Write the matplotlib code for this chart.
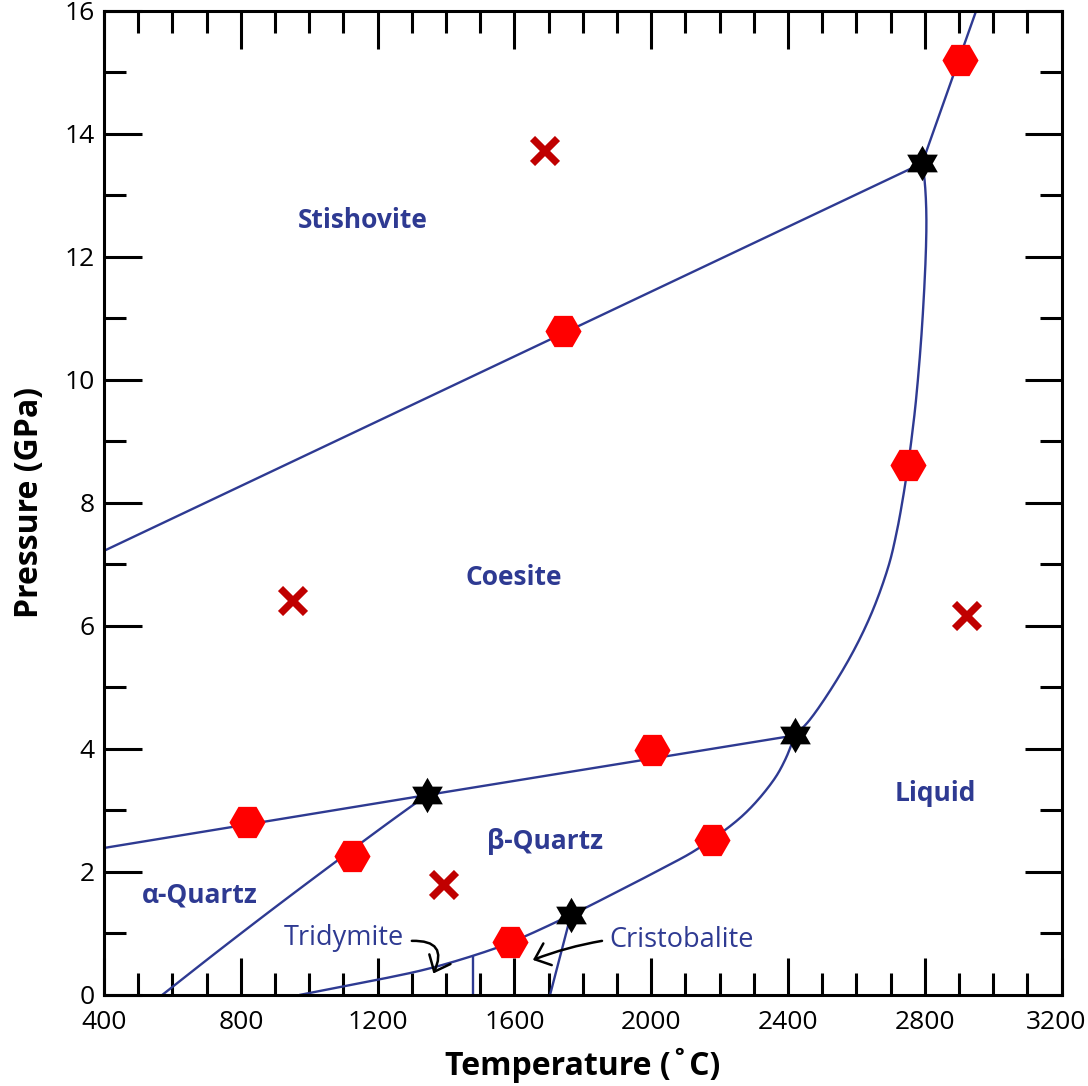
import numpy as np
import matplotlib
matplotlib.use("Agg")
import matplotlib.pyplot as plt
from matplotlib.path import Path
from matplotlib.patches import FancyArrowPatch
from matplotlib.ticker import MultipleLocator
from matplotlib.transforms import ScaledTranslation

plt.rcParams['font.family'] = ['Open Sans', 'DejaVu Sans']

# ---------------- data (temperature in C, pressure in GPa) ----------------
# quartz/tridymite/cristobalite boundary up to the beta-quartz/coesite/liquid triple point
low_T = [971, 1202, 1343, 1480, 1587, 1765, 1880, 2026, 2134, 2268, 2356, 2392, 2420]
low_P = [0.0, 0.25, 0.42, 0.64, 0.85, 1.30, 1.62, 2.04, 2.37, 2.92, 3.48, 3.83, 4.22]

# coesite melting curve up to the coesite/stishovite/liquid triple point
coes_melt_T = [2420, 2463, 2565, 2639, 2693, 2717, 2735, 2751, 2763, 2774, 2791, 2803,
               2804, 2799, 2792]
coes_melt_P = [4.22, 4.47, 5.33, 6.14, 6.96, 7.51, 8.05, 8.62, 9.13, 9.67, 10.81, 12.11,
               12.76, 13.25, 13.52]

# stishovite melting curve
stish_melt_T = [2792, 2950]
stish_melt_P = [13.52, 16.0]

# stishovite / coesite boundary
stish_T = [400, 2792]
stish_P = [7.22, 13.52]

# coesite / quartz boundary
coes_T = [400, 1344, 2420]
coes_P = [2.39, 3.25, 4.22]

# alpha / beta quartz boundary
ab_T = [570, 735, 925, 1217, 1344]
ab_P = [0.0, 0.72, 1.53, 2.74, 3.25]

# tridymite / cristobalite boundary
tc_T = [1480, 1480]
tc_P = [0.0, 0.64]

# cristobalite boundary
cb_T = [1704, 1765]
cb_P = [0.0, 1.30]

# red hexagons
hex_T = [2903, 1742, 2751, 2002, 818, 1125, 2178, 1587]
hex_P = [15.2, 10.79, 8.62, 3.98, 2.81, 2.26, 2.52, 0.86]

# black six-pointed stars (triple points)
star_T = [2792, 2420, 1344, 1765]
star_P = [13.52, 4.22, 3.25, 1.30]

# dark red crosses
x_T = [1686, 950, 1391, 2920]
x_P = [13.74, 6.42, 1.80, 6.18]

# phase labels
phase_names = ['Stishovite', 'Coesite', 'β-Quartz', 'α-Quartz', 'Liquid']
phase_T = [1156, 1599, 1689, 681, 2830]
phase_P = [12.59, 6.79, 2.49, 1.63, 3.28]

x_ticks = [400, 800, 1200, 1600, 2000, 2400, 2800, 3200]
y_ticks = [0, 2, 4, 6, 8, 10, 12, 14, 16]

# ---------------- style ----------------
BLUE = '#2E3A92'
RED = '#FF0000'
DARKRED = '#C00000'

fig = plt.figure(figsize=(10.88, 10.86), dpi=100)
ax = fig.add_axes([104/1088, (1086-995)/1086, 957.7/1088, 984.3/1086])
ax.set_xlim(400, 3200)
ax.set_ylim(0, 16)


def smooth_curve(T, P, n=30):
    """Centripetal Catmull-Rom curve through the given points (for drawing only)."""
    sx, sy = 0.34204, 61.52  # roughly isotropic scaling
    pts = np.column_stack([(np.asarray(T, float) - 400) * sx, np.asarray(P, float) * sy])
    if len(pts) < 3:
        return list(T), list(P)
    p = np.vstack([2*pts[0] - pts[1], pts, 2*pts[-1] - pts[-2]])
    out = []
    for i in range(1, len(p) - 2):
        p0, p1, p2, p3 = p[i-1], p[i], p[i+1], p[i+2]
        t0 = 0.0
        t1 = t0 + np.linalg.norm(p1 - p0) ** 0.5
        t2 = t1 + np.linalg.norm(p2 - p1) ** 0.5
        t3 = t2 + np.linalg.norm(p3 - p2) ** 0.5
        t = np.linspace(t1, t2, n, endpoint=False)[:, None]
        A1 = (t1 - t)/(t1 - t0)*p0 + (t - t0)/(t1 - t0)*p1
        A2 = (t2 - t)/(t2 - t1)*p1 + (t - t1)/(t2 - t1)*p2
        A3 = (t3 - t)/(t3 - t2)*p2 + (t - t2)/(t3 - t2)*p3
        B1 = (t2 - t)/(t2 - t0)*A1 + (t - t0)/(t2 - t0)*A2
        B2 = (t3 - t)/(t3 - t1)*A2 + (t - t1)/(t3 - t1)*A3
        C = (t2 - t)/(t2 - t1)*B1 + (t - t1)/(t2 - t1)*B2
        out.append(C)
    out.append(pts[-1:])
    c = np.vstack(out)
    return c[:, 0] / sx + 400, c[:, 1] / sy


line_kw = dict(color=BLUE, lw=1.7, zorder=2, solid_capstyle='butt', solid_joinstyle='round')
for T, P in [(low_T, low_P), (coes_melt_T, coes_melt_P), (ab_T, ab_P)]:
    st, sp = smooth_curve(T, P)
    ax.plot(st, sp, **line_kw)
ax.plot(stish_melt_T, stish_melt_P, **line_kw)
ax.plot(stish_T, stish_P, **line_kw)
ax.plot(coes_T, coes_P, **line_kw)
ax.plot(tc_T, tc_P, **line_kw)
ax.plot(cb_T, cb_P, **line_kw)

# hexagram marker
ang = np.pi/2 + np.arange(12) * np.pi/6
rad = np.where(np.arange(12) % 2 == 0, 1.0, 1/np.sqrt(3))
verts = np.column_stack([rad*np.cos(ang), rad*np.sin(ang)])
verts = np.vstack([verts, verts[:1]])
codes = [Path.MOVETO] + [Path.LINETO]*11 + [Path.CLOSEPOLY]
hexagram = Path(verts, codes)

ax.plot(hex_T, hex_P, ls='none', marker='H', ms=26, mfc=RED, mec='none', zorder=3)
ax.plot(star_T, star_P, ls='none', marker=hexagram, ms=25.5, mfc='black', mec='none', zorder=4)
ax.plot(x_T, x_P, ls='none', marker='x', ms=18, mew=5.2, mec=DARKRED, zorder=4)

for name, t, p in zip(phase_names, phase_T, phase_P):
    ax.text(t, p, name, color=BLUE, fontsize=19, fontweight='bold', ha='center', va='center')

ax.text(1101, 0.93, 'Tridymite', color=BLUE, fontsize=19.5, ha='center', va='center')
ax.text(2090, 0.89, 'Cristobalite', color=BLUE, fontsize=19.5, ha='center', va='center')

arr1 = FancyArrowPatch((1300, 0.88), (1363, 0.35), connectionstyle='arc3,rad=-0.8',
                       arrowstyle='->,head_length=0.45,head_width=0.38', mutation_scale=22,
                       color='black', lw=1.8, zorder=3, shrinkA=0, shrinkB=0)
ax.add_patch(arr1)
arr2 = FancyArrowPatch((1856, 0.88), (1654, 0.57), connectionstyle='arc3,rad=0.05',
                       arrowstyle='->,head_length=0.45,head_width=0.38', mutation_scale=22,
                       color='black', lw=1.8, zorder=3, shrinkA=0, shrinkB=0)
ax.add_patch(arr2)

# axes / ticks
ax.set_xticks(x_ticks)
ax.set_yticks(y_ticks)
ax.xaxis.set_minor_locator(MultipleLocator(100))
ax.yaxis.set_minor_locator(MultipleLocator(1))
ax.tick_params(which='both', direction='in', top=True, right=True, width=2.2, color='black')
ax.tick_params(which='major', length=27, labelsize=19)
ax.tick_params(which='minor', length=16)
ax.tick_params(axis='x', which='major', pad=10.5)
ax.tick_params(axis='y', which='major', pad=6.5)
for s in ax.spines.values():
    s.set_linewidth(2.2)

# keep the last x tick label inside the canvas
last = ax.get_xticklabels()[-1]
last.set_transform(last.get_transform() + ScaledTranslation(-6/100, 0, fig.dpi_scale_trans))

ax.set_xlabel('Temperature (˚C)', fontsize=23, fontweight='bold', va='baseline')
ax.xaxis.set_label_coords(0.5, (995-1075)/984.3)
ax.set_ylabel('Pressure (GPa)', fontsize=23, fontweight='bold', va='center')
ax.yaxis.set_label_coords((30-104)/957.7, 0.5)

fig.savefig('out.png', dpi=100)
